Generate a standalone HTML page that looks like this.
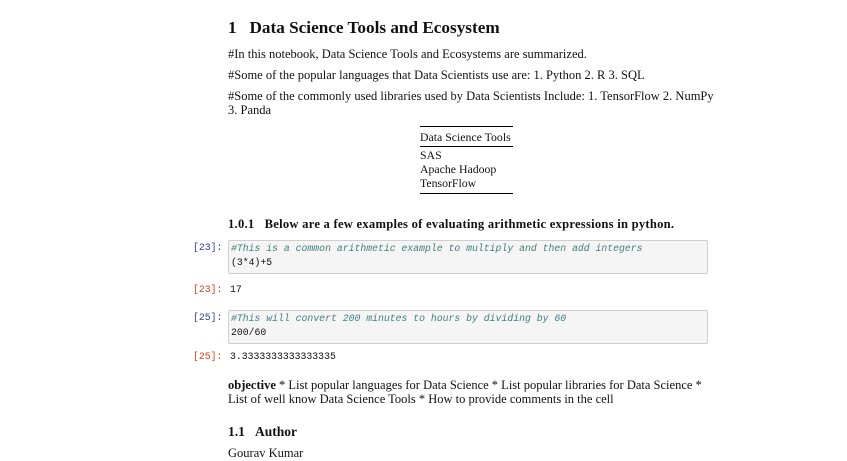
<!DOCTYPE html>
<html><head><meta charset="utf-8"><style>
body{margin:0;width:847px;height:461px;background:#fff;overflow:hidden;position:relative;font-family:"Liberation Serif",serif;color:#111}
.a{position:absolute;white-space:nowrap}
.t{font-size:12.5px;left:228px}
.m{font-family:"Liberation Mono",monospace;font-size:9.8px}
.p{left:193px;font-family:"Liberation Mono",monospace;font-size:9.8px}
.in{color:#303f9f}.out{color:#d84315}
.box{position:absolute;left:228px;width:478px;height:32px;background:#f5f5f5;border:1px solid #cfcfcf;border-radius:2px}
.c{color:#408080;font-style:italic}
.r{position:absolute;left:420px;width:93px;background:#000}
</style></head><body>
<div class="a" style="left:228px;top:18px;font-size:17.2px;font-weight:bold">1&nbsp;&nbsp;&nbsp;Data Science Tools and Ecosystem</div>
<div class="a t" style="top:47px">#In this notebook, Data Science Tools and Ecosystems are summarized.</div>
<div class="a t" style="top:68px">#Some of the popular languages that Data Scientists use are: 1. Python 2. R 3. SQL</div>
<div class="a t" style="top:89px;line-height:14px">#Some of the commonly used libraries used by Data Scientists Include: 1. TensorFlow 2. NumPy<br>3. Panda</div>
<div>
<div class="r" style="top:126px;height:1px"></div>
<div class="a" style="left:420px;top:130px;font-size:11.8px">Data Science Tools</div>
<div class="r" style="top:146px;height:1px"></div>
<div class="a" style="left:420px;top:148px;font-size:11.8px;line-height:14px">SAS<br>Apache Hadoop<br>TensorFlow</div>
<div class="r" style="top:193px;height:1px"></div>
</div>
<div class="a" style="left:228px;top:217px;font-size:12.6px;font-weight:bold;letter-spacing:0.25px">1.0.1&nbsp;&nbsp;&nbsp;Below are a few examples of evaluating arithmetic expressions in python.</div>
<div class="a p in" style="top:242px">[23]:</div>
<div class="box" style="top:240px"></div>
<div class="a m" style="left:231px;top:242px;line-height:14px"><span class="c">#This is a common arithmetic example to multiply and then add integers</span><br>(3*4)+5</div>
<div class="a p out" style="top:284px">[23]:</div>
<div class="a m" style="left:230px;top:284px">17</div>
<div class="a p in" style="top:312px">[25]:</div>
<div class="box" style="top:310px"></div>
<div class="a m" style="left:231px;top:312px;line-height:14px"><span class="c">#This will convert 200 minutes to hours by dividing by 60</span><br>200/60</div>
<div class="a p out" style="top:351px">[25]:</div>
<div class="a m" style="left:230px;top:351px">3.3333333333333335</div>
<div class="a t" style="top:378px;line-height:14px"><b>objective</b> * List popular languages for Data Science * List popular libraries for Data Science *<br>List of well know Data Science Tools * How to provide comments in the cell</div>
<div class="a" style="left:228px;top:424px;font-size:13.5px;font-weight:bold">1.1&nbsp;&nbsp;&nbsp;Author</div>
<div class="a t" style="top:446px">Gourav Kumar</div>
</body></html>
